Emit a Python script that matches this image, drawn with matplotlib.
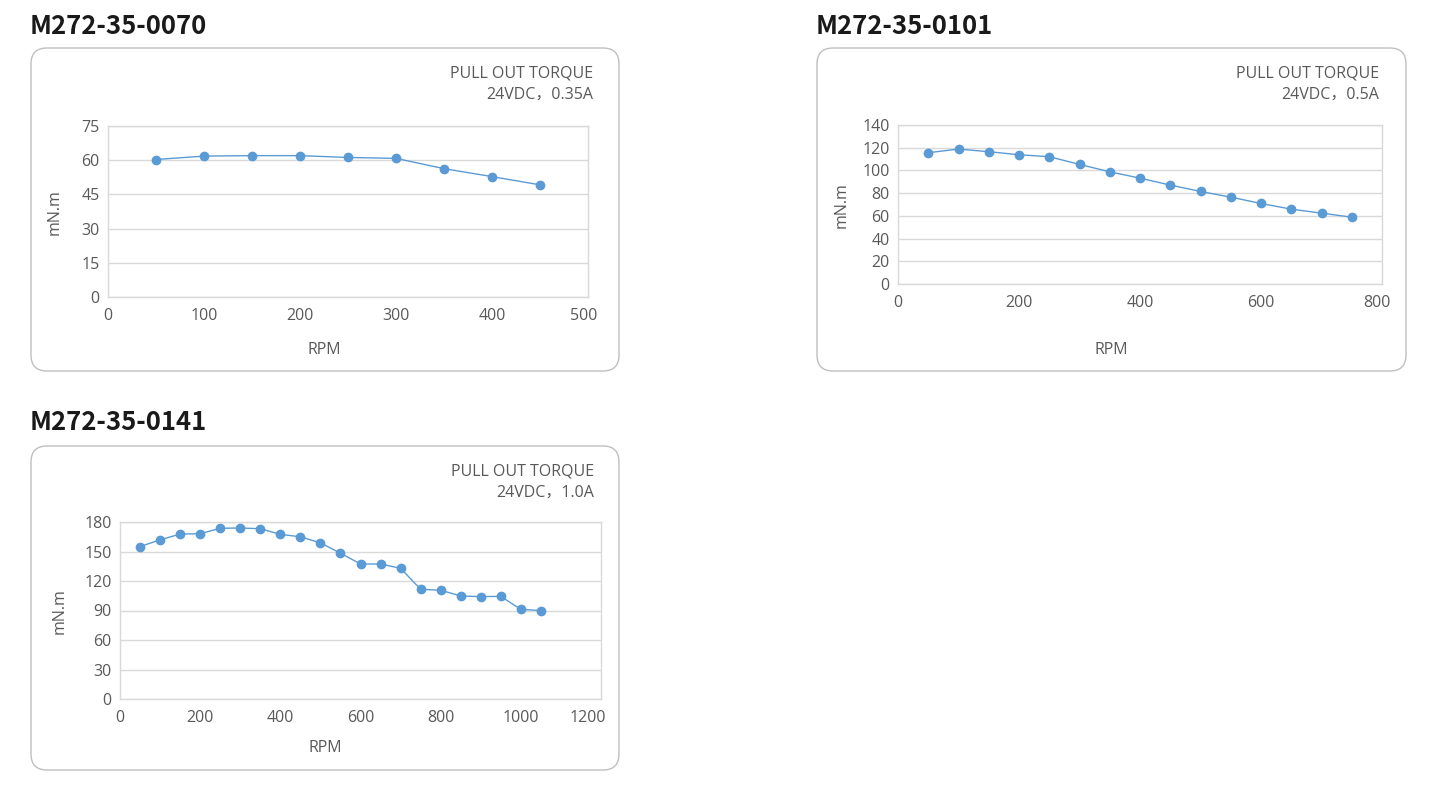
import matplotlib
matplotlib.use('Agg')
import matplotlib.pyplot as plt
from matplotlib.patches import FancyBboxPatch
from matplotlib.transforms import ScaledTranslation

plt.rcParams['font.family'] = ['Open Sans', 'Noto Sans CJK SC', 'DejaVu Sans']

# ── data ────────────────────────────────────────────────────────────────────
titles = ['M272-35-0070', 'M272-35-0101', 'M272-35-0141']
subtitles = ['24VDC，0.35A', '24VDC，0.5A', '24VDC，1.0A']

rpm_0070 = [50, 100, 150, 200, 250, 300, 350, 400, 450]
torque_0070 = [60.3, 61.8, 62.0, 62.0, 61.2, 60.8, 56.3, 52.8, 49.2]

rpm_0101 = [50, 100, 150, 200, 250, 300, 350, 400, 450, 500, 550, 600, 650, 700, 750]
torque_0101 = [115.6, 118.8, 116.5, 113.8, 112.1, 105.3, 98.8, 93.2, 87.1,
               81.5, 76.5, 70.9, 65.9, 62.4, 58.8]

rpm_0141 = [50, 100, 150, 200, 250, 300, 350, 400, 450, 500, 550,
            600, 650, 700, 750, 800, 850, 900, 950, 1000, 1050]
torque_0141 = [155.0, 161.9, 167.7, 168.1, 173.6, 173.9, 173.2, 167.4, 165.0,
               158.8, 148.3, 137.3, 137.3, 132.9, 111.6, 110.6, 104.8, 104.1,
               104.4, 91.1, 90.0]

y_ticks = [[0, 15, 30, 45, 60, 75], list(range(0, 141, 20)), list(range(0, 181, 30))]
x_ticks = [list(range(0, 501, 100)), list(range(0, 801, 200)), list(range(0, 1201, 200))]

# ── layout (pixels) ─────────────────────────────────────────────────────────
W, H = 1441, 790
BLUE = '#5B9BD5'
GRID = '#D9D9D9'
TXT = '#595959'
FS = 11.5

panels = [
    dict(box=(31, 48, 619, 371), ax=(108, 126, 588, 297), title=(30, 26),
         sub=(593, 74), ylab=(55, 212), rpm=(324, 350), last_shift=-4),
    dict(box=(817, 48, 1406, 371), ax=(898, 125, 1382, 284), title=(816, 26),
         sub=(1379, 74), ylab=(842, 205), rpm=(1111, 350), last_shift=-5),
    dict(box=(31, 446, 619, 770), ax=(120, 522, 601, 699), title=(30, 423),
         sub=(594, 472), ylab=(60, 611), rpm=(325, 748), last_shift=-13),
]
series = [(rpm_0070, torque_0070), (rpm_0101, torque_0101), (rpm_0141, torque_0141)]

fig = plt.figure(figsize=(W / 100, H / 100), dpi=100)
bg = fig.add_axes([0, 0, 1, 1])
bg.set_xlim(0, W)
bg.set_ylim(H, 0)
bg.axis('off')

for i, p in enumerate(panels):
    x0, y0, x1, y1 = p['box']
    bg.add_patch(FancyBboxPatch((x0, y0), x1 - x0, y1 - y0,
                                boxstyle='round,pad=0,rounding_size=16',
                                fc='white', ec='#BFBFBF', lw=1.0))
    bg.text(*p['title'], titles[i], fontsize=18.5, fontweight='bold',
            family=['Noto Sans CJK SC', 'DejaVu Sans'],
            color='#1a1a1a', ha='left', va='center')
    sx, sy = p['sub']
    bg.text(sx, sy, 'PULL OUT TORQUE', fontsize=FS, color=TXT,
            ha='right', va='center')
    bg.text(sx, sy + 21, subtitles[i], fontsize=FS, color=TXT,
            ha='right', va='center')
    bg.text(*p['ylab'], 'mN.m', fontsize=FS, color=TXT, rotation=90,
            ha='center', va='center')
    bg.text(*p['rpm'], 'RPM', fontsize=FS, color=TXT, ha='center', va='center')

    l, t, r, b = p['ax']
    ax = fig.add_axes([l / W, 1 - b / H, (r - l) / W, (b - t) / H])
    xs, ys = series[i]
    ax.plot(xs, ys, color=BLUE, lw=1.0, marker='o', ms=6, mec=BLUE, mfc=BLUE)
    ax.set_xlim(x_ticks[i][0], x_ticks[i][-1])
    ax.set_ylim(y_ticks[i][0], y_ticks[i][-1])
    ax.set_xticks(x_ticks[i])
    ax.set_yticks(y_ticks[i])
    ax.grid(axis='y', color=GRID, lw=1.0)
    ax.set_axisbelow(True)
    for s in ax.spines.values():
        s.set_color(GRID)
        s.set_linewidth(1.0)
    ax.tick_params(length=0, labelsize=FS, labelcolor=TXT)
    ax.tick_params(axis='x', pad=8)
    ax.tick_params(axis='y', pad=6)
    # Excel nudges the last x label inward so it stays inside the chart
    last = ax.get_xticklabels()[-1]
    last.set_transform(last.get_transform() +
                       ScaledTranslation(p['last_shift'] / 100, 0, fig.dpi_scale_trans))

fig.savefig('out.png', dpi=100, facecolor='white')
